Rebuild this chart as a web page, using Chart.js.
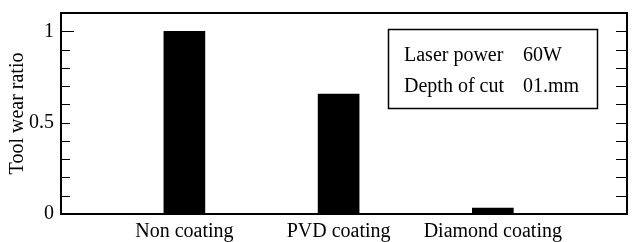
<!DOCTYPE html>
<html>
<head>
<meta charset="utf-8">
<script src="https://cdn.jsdelivr.net/npm/chart.js@4/dist/chart.umd.min.js"></script>
<style>
  body { margin: 0; background: #fff; }
  canvas { display: block; }
</style>
</head>
<body>
<canvas id="wearChart" width="633" height="242"></canvas>
<script>
const categories = ['Non coating', 'PVD coating', 'Diamond coating'];
const wearRatio = [1.0, 0.656, 0.033];
const yTickLabels = ['0', '0.5', '1'];
const noteLabels = ['Laser power', 'Depth of cut'];
const noteValues = ['60W', '01.mm'];

const FONT = '"Liberation Serif", "Times New Roman", serif';

// frame, inward ticks and the condition box
const framePlugin = {
    id: 'frame',
    afterDraw(chart) {
        const { ctx, chartArea: a, scales } = chart;
        const y = scales.y;
        ctx.save();
        ctx.strokeStyle = '#000';

        ctx.lineWidth = 1;
        for (let i = 1; i <= 10; i++) {
            const py = Math.round(y.getPixelForValue(i / 10)) + 0.5;
            const len = i === 10 ? 13 : 9;
            ctx.beginPath();
            ctx.moveTo(a.left, py);
            ctx.lineTo(a.left + len, py);
            ctx.moveTo(a.right, py);
            ctx.lineTo(a.right - 11, py);
            ctx.stroke();
        }

        ctx.lineWidth = 2;
        ctx.strokeRect(a.left, a.top, a.right - a.left, a.bottom - a.top);

        ctx.lineWidth = 1.5;
        ctx.strokeRect(388.5, 29.5, 209, 79);
        ctx.fillStyle = '#000';
        ctx.font = '20px ' + FONT;
        ctx.textBaseline = 'alphabetic';
        noteLabels.forEach((t, i) => {
            ctx.fillText(t, 404, 61 + i * 31);
            ctx.fillText(noteValues[i], 523, 61 + i * 31);
        });
        ctx.restore();
    }
};

new Chart(document.getElementById('wearChart'), {
    type: 'bar',
    data: {
        datasets: [{
            data: wearRatio.map((v, i) => ({ x: i, y: v })),
            backgroundColor: '#000',
            borderWidth: 0,
            barThickness: 41
        }]
    },
    options: {
        responsive: false,
        animation: false,
        layout: { padding: { top: 13, right: 6 } },
        plugins: { legend: { display: false }, tooltip: { enabled: false } },
        scales: {
            x: {
                type: 'linear',
                min: -0.8,
                max: 2.87,
                offset: false,
                grid: { display: false, drawTicks: false },
                border: { display: false },
                afterBuildTicks: (s) => { s.ticks = categories.map((_, i) => ({ value: i })); },
                afterFit: (s) => { s.height = 28; s.paddingLeft = 0; s.paddingRight = 0; },
                ticks: {
                    color: '#000',
                    font: { family: FONT, size: 20 },
                    padding: 6,
                    maxRotation: 0,
                    autoSkip: false,
                    callback: (v) => categories[v]
                }
            },
            y: {
                min: 0,
                max: 1.1,
                grid: { display: false, drawTicks: false },
                border: { display: false },
                afterBuildTicks: (s) => {
                    s.ticks = yTickLabels.map(t => ({ value: parseFloat(t) }));
                },
                afterFit: (s) => { s.width = 61; s.paddingTop = 0; s.paddingBottom = 0; },
                ticks: {
                    color: '#000',
                    font: { family: FONT, size: 20 },
                    padding: 7,
                    callback: (v, i) => yTickLabels[i]
                },
                title: {
                    display: true,
                    text: 'Tool wear ratio',
                    color: '#000',
                    font: { family: FONT, size: 20 },
                    padding: { top: 6, bottom: 0 }
                }
            }
        }
    },
    plugins: [framePlugin]
});
</script>
</body>
</html>
